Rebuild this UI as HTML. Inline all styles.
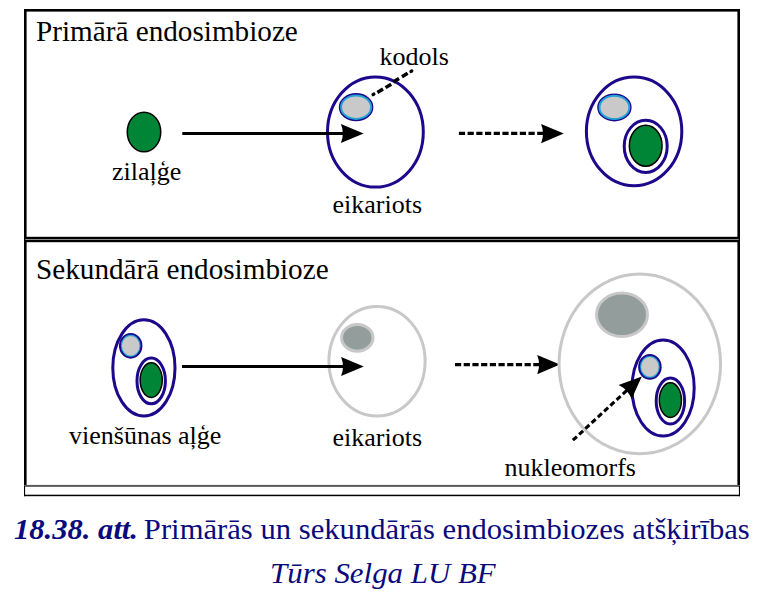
<!DOCTYPE html>
<html><head><meta charset="utf-8"><style>
html,body{margin:0;padding:0;background:#fff;}
body{width:778px;height:604px;overflow:hidden;position:relative;}
svg{position:absolute;left:0;top:0;display:block;}
text{font-family:"Liberation Serif",serif;}
</style></head><body>
<svg width="778" height="604" viewBox="0 0 778 604">
<rect x="24" y="9" width="716" height="2.6" fill="#000"/>
<rect x="24" y="9" width="2.6" height="476" fill="#000"/>
<rect x="737.4" y="9" width="2.6" height="476" fill="#000"/>
<rect x="24" y="236.8" width="716" height="5.4" fill="#000"/>
<rect x="25.2" y="239" width="713.6" height="1" fill="#8a8a8a"/>
<rect x="24" y="484.9" width="716" height="2" fill="#5e5a5b"/>
<rect x="24" y="486" width="1.1" height="10.2" fill="#000"/>
<rect x="738.9" y="486" width="1.1" height="10.2" fill="#000"/>
<rect x="24" y="494.7" width="716" height="1.5" fill="#000"/>
<ellipse cx="144.00" cy="132.00" rx="16.75" ry="19.85" fill="#008536" stroke="#000" stroke-width="1.5"/>
<ellipse cx="375.40" cy="132.00" rx="47.90" ry="55.10" fill="none" stroke="#1d088c" stroke-width="3.0"/>
<line x1="182.3" y1="133.4" x2="346" y2="133.4" stroke="#000" stroke-width="3"/>
<path d="M363.60,133.50 L340.90,143.10 Q344.70,133.50 340.90,123.90 Z" fill="#000"/>
<ellipse cx="356.10" cy="107.15" rx="16.65" ry="13.40" fill="#21a3d3" stroke="#1d088c" stroke-width="1.3"/><ellipse cx="356.10" cy="107.15" rx="14.00" ry="10.75" fill="#c9c9c9" stroke="none" stroke-width="0"/>
<path d="M377.38,92.52L383.02,89.08M385.58,87.62L391.22,84.18M393.38,82.02L399.02,78.58M401.98,76.72L407.62,73.28" stroke="#000" stroke-width="3.5" fill="none"/>
<path d="M373.16,94.51L373.84,94.09M411.06,71.41L411.74,70.99" stroke="#000" stroke-width="3.4" stroke-linecap="round" fill="none"/>
<line x1="458.9" y1="133.4" x2="545" y2="133.4" stroke="#000" stroke-width="3.2" stroke-dasharray="6.2 2.5"/>
<path d="M563.80,133.60 L541.10,143.20 Q544.90,133.60 541.10,124.00 Z" fill="#000"/>
<ellipse cx="634.10" cy="131.40" rx="47.70" ry="54.30" fill="none" stroke="#1d088c" stroke-width="3"/>
<ellipse cx="614.40" cy="107.40" rx="16.55" ry="13.35" fill="#21a3d3" stroke="#1d088c" stroke-width="1.3"/><ellipse cx="614.40" cy="107.40" rx="13.90" ry="10.70" fill="#c9c9c9" stroke="none" stroke-width="0"/>
<ellipse cx="645.70" cy="146.30" rx="21.50" ry="26.10" fill="none" stroke="#1d088c" stroke-width="3.0"/><ellipse cx="645.70" cy="145.80" rx="16.35" ry="20.45" fill="#008536" stroke="#000" stroke-width="1.5"/>
<ellipse cx="143.90" cy="367.90" rx="31.10" ry="48.10" fill="#fff" stroke="#1d088c" stroke-width="3"/><ellipse cx="130.70" cy="345.80" rx="10.80" ry="11.90" fill="#21a3d3" stroke="#1d088c" stroke-width="1.9"/><ellipse cx="130.70" cy="345.80" rx="8.75" ry="9.85" fill="#c9c9c9" stroke="none" stroke-width="0"/><ellipse cx="151.20" cy="380.90" rx="14.20" ry="22.90" fill="none" stroke="#1d088c" stroke-width="3.0"/><ellipse cx="151.20" cy="380.10" rx="11.05" ry="17.35" fill="#008536" stroke="#000" stroke-width="1.5"/>
<ellipse cx="377.00" cy="361.30" rx="48.10" ry="54.70" fill="none" stroke="#c8c8c8" stroke-width="3"/>
<line x1="182" y1="366.5" x2="346" y2="366.5" stroke="#000" stroke-width="3"/>
<ellipse cx="357.30" cy="337.80" rx="15.70" ry="13.35" fill="#939d9b" stroke="#c8c8c8" stroke-width="3"/>
<path d="M363.80,366.50 L341.10,376.10 Q344.90,366.50 341.10,356.90 Z" fill="#000"/>
<line x1="455" y1="364.7" x2="541" y2="364.7" stroke="#000" stroke-width="3.2" stroke-dasharray="6.2 2.5"/>
<path d="M559.90,364.60 L537.20,374.20 Q541.00,364.60 537.20,355.00 Z" fill="#000"/>
<ellipse cx="639.80" cy="363.90" rx="80.75" ry="89.90" fill="none" stroke="#c8c8c8" stroke-width="3"/>
<ellipse cx="622.00" cy="314.70" rx="25.50" ry="21.70" fill="#939d9b" stroke="#c8c8c8" stroke-width="3"/>
<ellipse cx="663.10" cy="388.00" rx="31.10" ry="48.10" fill="#fff" stroke="#1d088c" stroke-width="3"/><ellipse cx="649.90" cy="366.90" rx="10.80" ry="11.90" fill="#21a3d3" stroke="#1d088c" stroke-width="1.9"/><ellipse cx="649.90" cy="366.90" rx="8.75" ry="9.85" fill="#c9c9c9" stroke="none" stroke-width="0"/><ellipse cx="670.40" cy="401.00" rx="14.20" ry="22.90" fill="none" stroke="#1d088c" stroke-width="3.0"/><ellipse cx="670.40" cy="400.20" rx="11.05" ry="17.35" fill="#008536" stroke="#000" stroke-width="1.5"/>
<line x1="572.9" y1="440.2" x2="629.31" y2="388.13" stroke="#000" stroke-width="3.1" stroke-dasharray="5.4 3.1"/>
<path d="M641.80,376.60 L631.63,399.05 Q627.91,389.42 618.61,384.94 Z" fill="#000"/>
<text x="36" y="40.7" font-size="29.2" >Primārā endosimbioze</text>
<text x="36" y="278.5" font-size="29.2" >Sekundārā endosimbioze</text>
<text x="112" y="180.1" font-size="26" >zilaļģe</text>
<text x="379.5" y="65" font-size="26" >kodols</text>
<text x="332.5" y="212.8" font-size="26" >eikariots</text>
<text x="69" y="443.8" font-size="26" >vienšūnas aļģe</text>
<text x="332.5" y="446.4" font-size="26" >eikariots</text>
<text x="504.5" y="476" font-size="26" >nukleomorfs</text>
<text transform="translate(14 539.1) scale(1 0.965)" x="0" y="0" font-size="30.6" fill="#0a0a7c"><tspan font-weight="bold" font-style="italic">18.38. att.</tspan><tspan dx="-1.8" font-size="30.66"> Primārās un sekundārās endosimbiozes atšķirības</tspan></text>
<text transform="translate(270 583.4) scale(1 0.965)" x="0" y="0" font-size="30.9" fill="#0a0a7c" font-style="italic">Tūrs Selga LU BF</text>
</svg>
</body></html>
